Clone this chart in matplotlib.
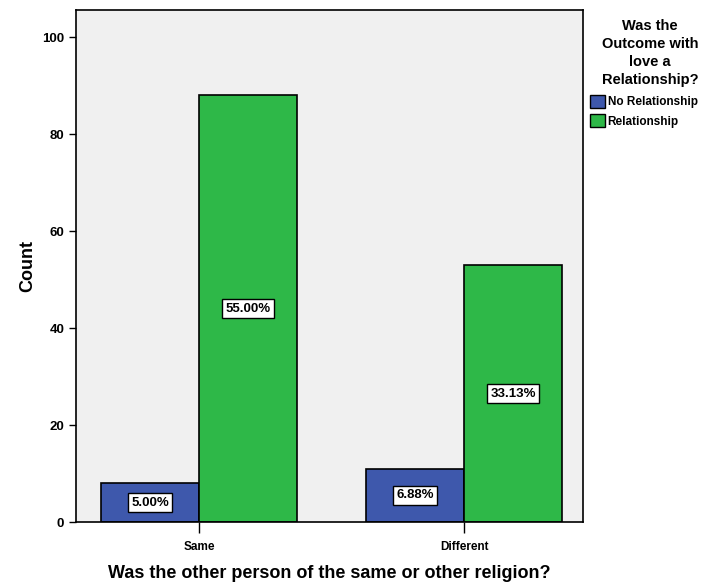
import matplotlib.pyplot as plt
import numpy as np
from matplotlib.patches import Patch

plt.rcParams['font.family'] = ['Liberation Sans', 'DejaVu Sans']
plt.rcParams['font.weight'] = 'bold'

categories = ["Same", "Different"]
series = ["No Relationship", "Relationship"]
counts = {
    "No Relationship": [8, 11],
    "Relationship": [88, 53],
}
pct_labels = {
    "No Relationship": ["5.00%", "6.88%"],
    "Relationship": ["55.00%", "33.13%"],
}
colors = {"No Relationship": "#3E58AC", "Relationship": "#2EB848"}

fig = plt.figure(figsize=(7.05, 5.82), dpi=100)
ax = fig.add_axes([0.108, 0.103, 0.719, 0.880])
ax.set_facecolor("#F0F0F0")

x = np.arange(len(categories))
width = 0.37
for i, s in enumerate(series):
    offs = (i - 0.5) * width
    bars = ax.bar(x + offs, counts[s], width, color=colors[s], edgecolor="black", linewidth=1.2, label=s, zorder=2)
    for b, lab in zip(bars, pct_labels[s]):
        ax.text(b.get_x() + b.get_width() / 2, b.get_height() / 2, lab, ha="center", va="center",
                fontsize=9.5, fontweight="bold", zorder=3,
                bbox=dict(boxstyle="square,pad=0.25", facecolor="white", edgecolor="black", linewidth=1))

ax.set_xlim(-0.464, 1.449)
ax.set_ylim(0, 105.6)
ax.set_yticks([0, 20, 40, 60, 80, 100])
ax.set_xticks(x)
ax.set_xticklabels(categories, fontsize=8.5, fontweight="bold")
ax.tick_params(axis="y", labelsize=9.5, length=5, width=1)
ax.tick_params(axis="x", length=8, width=1, pad=6)
for sp in ax.spines.values():
    sp.set_linewidth(1.2)

ax.set_ylabel("Count", fontsize=13, fontweight="bold", labelpad=4)
ax.set_xlabel("Was the other person of the same or other religion?", fontsize=13, fontweight="bold", labelpad=8)

# legend title as separate text, entries below
fig.text(650 / 705, 1 - 19 / 582, "Was the\nOutcome with\nlove a\nRelationship?", ha="center", va="top",
         fontsize=10.5, fontweight="bold", linespacing=1.35)
handles = [Patch(facecolor=colors[s], edgecolor="black", label=s) for s in series]
leg = fig.legend(handles=handles, loc="upper left", bbox_to_anchor=(590 / 705, 1 - 95 / 582),
                 frameon=False, fontsize=8.5, handlelength=1.3, handleheight=1.3,
                 handletextpad=0.2, borderaxespad=0, borderpad=0, labelspacing=0.5)

fig.savefig("out.png", dpi=100)
